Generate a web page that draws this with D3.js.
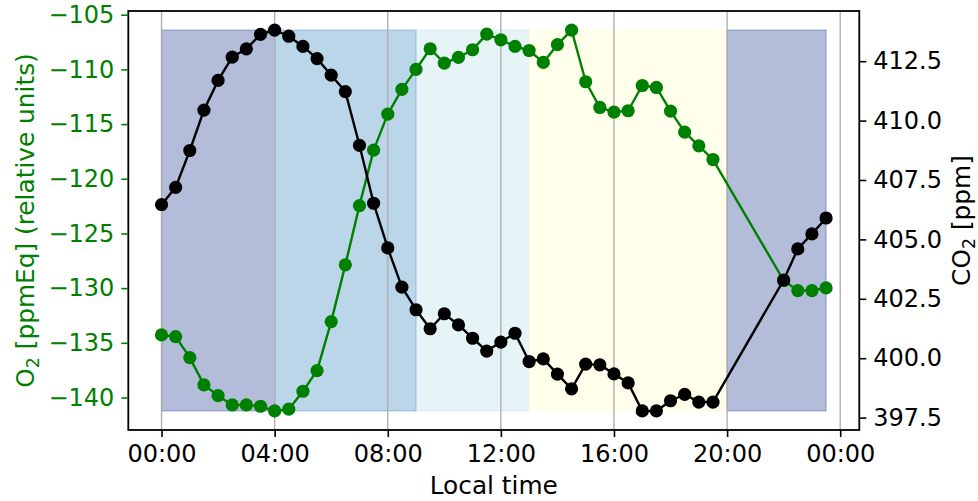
<!DOCTYPE html>
<html>
<head>
<meta charset="utf-8">
<script src="https://cdn.jsdelivr.net/npm/d3@7"></script>
<style>
  html, body { margin: 0; padding: 0; background: #fff; }
  svg { display: block; font-family: "DejaVu Sans", sans-serif; }
</style>
</head>
<body>
<svg id="chart" width="978" height="501"></svg>
<script>
// Local time of each sample (hours after midnight)
const hours = [0, 0.5, 1, 1.5, 2, 2.5, 3, 3.5, 4, 4.5, 5, 5.5, 6, 6.5, 7, 7.5,
  8, 8.5, 9, 9.5, 10, 10.5, 11, 11.5, 12, 12.5, 13, 13.5, 14, 14.5, 15, 15.5,
  16, 16.5, 17, 17.5, 18, 18.5, 19, 19.5, 22, 22.5, 23, 23.5];

// O2 in ppmEq (relative units)
const o2 = [-134.28, -134.43, -136.35, -138.85, -139.83, -140.68, -140.68, -140.80,
  -141.23, -141.07, -139.43, -137.54, -133.06, -127.87, -122.45, -117.38,
  -114.09, -111.83, -110.00, -108.11, -109.42, -108.90, -108.20, -106.77,
  -107.29, -107.90, -108.27, -109.36, -107.74, -106.40, -111.13, -113.48,
  -113.90, -113.78, -111.47, -111.65, -113.81, -115.73, -116.99, -118.24,
  -129.30, -130.22, -130.22, -129.98];

// CO2 in ppm
const co2 = [406.46, 407.19, 408.74, 410.44, 411.69, 412.67, 413.02, 413.63,
  413.81, 413.55, 413.12, 412.61, 411.91, 411.22, 408.96, 406.52,
  404.64, 402.99, 402.04, 401.24, 401.87, 401.40, 400.84, 400.30,
  400.68, 401.05, 399.86, 399.97, 399.33, 398.71, 399.75, 399.72,
  399.34, 398.96, 397.78, 397.78, 398.21, 398.48, 398.15, 398.15,
  403.29, 404.60, 405.23, 405.90];

// Shaded periods of the day (hours)
const periodStart = [0, 4, 9, 13, 20];
const periodEnd = [4, 9, 13, 20, 23.5];

// Axis ticks
const timeTicks = [0, 4, 8, 12, 16, 20, 24];
const timeTickLabels = ["00:00", "04:00", "08:00", "12:00", "16:00", "20:00", "00:00"];
const o2Ticks = [-140, -135, -130, -125, -120, -115, -110, -105];
const co2Ticks = [397.5, 400.0, 402.5, 405.0, 407.5, 410.0, 412.5];

// Styling
const periodColors = ["rgb(2,35,132)", "rgb(31,119,180)", "rgb(173,216,230)", "rgb(255,255,224)", "rgb(2,35,132)"];
const periodAlpha = [0.3, 0.3, 0.3, 0.6, 0.3];
const o2Color = "#008000";
const co2Color = "#000000";
const fontSize = 24;
const titleSize = 24.8;

const svg = d3.select("#chart");
const plot = { left: 128.3, right: 859.3, top: 11, bottom: 430 };

// domain padded by 5% on both sides
function padded(ext) {
  const s = ext[1] - ext[0];
  return [ext[0] - 0.05 * s, ext[1] + 0.05 * s];
}

const x = d3.scaleLinear().domain(padded(d3.extent(hours))).range([plot.left, plot.right]);
const yO2 = d3.scaleLinear().domain(padded(d3.extent(o2))).range([plot.bottom, plot.top]);
const yCO2 = d3.scaleLinear().domain(padded(d3.extent(co2))).range([plot.bottom, plot.top]);

const o2Ext = d3.extent(o2);

// shaded periods, spanning the O2 range
const periods = periodStart.map((s, i) => ({ s, e: periodEnd[i], c: periodColors[i], a: periodAlpha[i] }));
svg.append("g").selectAll("rect").data(periods).join("rect")
  .attr("x", d => x(d.s))
  .attr("width", d => x(d.e) - x(d.s))
  .attr("y", yO2(o2Ext[1]))
  .attr("height", yO2(o2Ext[0]) - yO2(o2Ext[1]))
  .attr("fill", d => d.c)
  .attr("fill-opacity", d => d.a)
  .attr("stroke", d => d.c)
  .attr("stroke-opacity", d => d.a)
  .attr("stroke-width", 1.2);

// vertical grid lines
svg.append("g").selectAll("line").data(timeTicks).join("line")
  .attr("x1", d => x(d)).attr("x2", d => x(d))
  .attr("y1", plot.top).attr("y2", plot.bottom)
  .attr("stroke", "#b0b0b0").attr("stroke-width", 1.4);

// series: line plus markers
function series(values, yScale, color) {
  const pts = hours.map((h, i) => [x(h), yScale(values[i])]);
  const g = svg.append("g");
  g.append("path")
    .attr("d", d3.line()(pts))
    .attr("fill", "none").attr("stroke", color)
    .attr("stroke-width", 2.4).attr("stroke-linejoin", "round");
  g.selectAll("circle").data(pts).join("circle")
    .attr("cx", d => d[0]).attr("cy", d => d[1])
    .attr("r", 6.6).attr("fill", color);
}
series(o2, yO2, o2Color);
series(co2, yCO2, co2Color);

// frame
svg.append("rect")
  .attr("x", plot.left).attr("y", plot.top)
  .attr("width", plot.right - plot.left).attr("height", plot.bottom - plot.top)
  .attr("fill", "none").attr("stroke", "#000").attr("stroke-width", 1.8);

// axes
function styleAxis(g, color) {
  g.select(".domain").remove();
  g.selectAll(".tick line").attr("stroke", color).attr("stroke-width", 1.6);
  g.selectAll(".tick text")
    .attr("fill", color)
    .attr("font-size", fontSize)
    .attr("font-family", "DejaVu Sans, sans-serif");
}

const xAxis = svg.append("g")
  .attr("transform", `translate(0,${plot.bottom})`)
  .call(d3.axisBottom(x).tickValues(timeTicks)
    .tickFormat((d, i) => timeTickLabels[i]).tickSize(7).tickPadding(8));
styleAxis(xAxis, "#000");
xAxis.selectAll(".tick text").attr("dy", "0.71em");

const leftAxis = svg.append("g")
  .attr("transform", `translate(${plot.left},0)`)
  .call(d3.axisLeft(yO2).tickValues(o2Ticks)
    .tickFormat(d => d3.format("d")(d).replace("-", "\u2212")).tickSize(7).tickPadding(7));
styleAxis(leftAxis, o2Color);

const rightAxis = svg.append("g")
  .attr("transform", `translate(${plot.right},0)`)
  .call(d3.axisRight(yCO2).tickValues(co2Ticks)
    .tickFormat(d3.format(".1f")).tickSize(7).tickPadding(7));
styleAxis(rightAxis, "#000");

// axis titles
svg.append("text")
  .attr("x", (plot.left + plot.right) / 2).attr("y", 494)
  .attr("text-anchor", "middle").attr("font-size", titleSize).attr("fill", "#000")
  .text("Local time");

function rotatedTitle(cx, cy, color, parts) {
  const t = svg.append("text")
    .attr("transform", `translate(${cx},${cy}) rotate(-90)`)
    .attr("text-anchor", "middle").attr("font-size", titleSize).attr("fill", color);
  parts.forEach(p => {
    const ts = t.append("tspan").text(p.text);
    if (p.sub) ts.attr("font-size", titleSize * 0.7).attr("dy", 5);
    if (p.after) ts.attr("dy", -5);
  });
}
rotatedTitle(33.5, (plot.top + plot.bottom) / 2, o2Color, [
  { text: "O" }, { text: "2", sub: true }, { text: " [ppmEq] (relative units)", after: true }
]);
rotatedTitle(970, (plot.top + plot.bottom) / 2, "#000", [
  { text: "CO" }, { text: "2", sub: true }, { text: " [ppm]", after: true }
]);
</script>
</body>
</html>
